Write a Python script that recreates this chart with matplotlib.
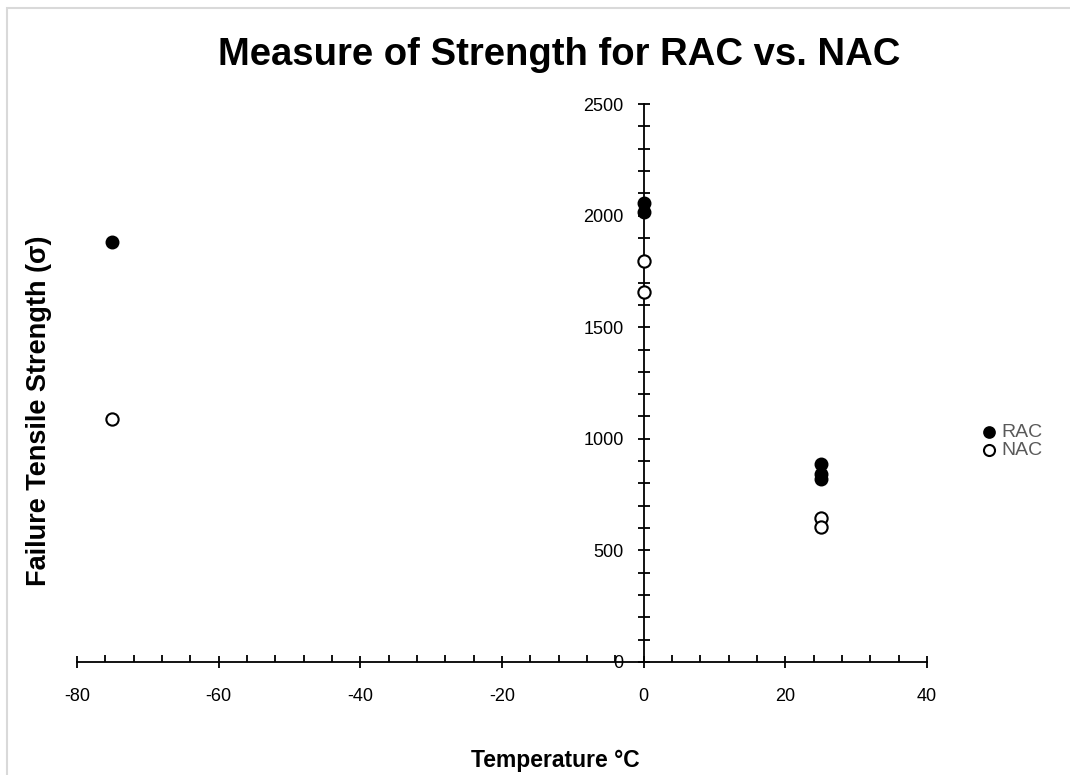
import matplotlib
matplotlib.use("Agg")
import matplotlib.pyplot as plt
from matplotlib.patches import Rectangle
from matplotlib.ticker import MultipleLocator

plt.rcParams['font.family'] = ['Liberation Sans', 'DejaVu Sans']
plt.rcParams['axes.unicode_minus'] = False

# Failure tensile strength at each test temperature
rac_temp = [-75, 0, 0, 25, 25, 25]
rac_strength = [1882, 2056, 2016, 889, 842, 820]
nac_temp = [-75, 0, 0, 25, 25]
nac_strength = [1090, 1795, 1658, 643, 605]

fig = plt.figure(figsize=(10.7, 7.75), dpi=100)
ax = fig.add_axes([77 / 1070, 1 - 662 / 775, 850 / 1070, 558 / 775])

# light grey chart frame
fig.patches.append(Rectangle((7 / 1070, -0.1), 1.2, 1 - 8 / 775 + 0.1,
                             transform=fig.transFigure, fill=False,
                             edgecolor='#d9d9d9', linewidth=1.5))

ax.scatter(rac_temp, rac_strength, s=78, color='black', edgecolor='black',
           linewidth=1.2, zorder=3, label='RAC')
ax.scatter(nac_temp, nac_strength, s=78, color='white', edgecolor='black',
           linewidth=1.5, zorder=3, label='NAC')

ax.set_xlim(-80, 40)
ax.set_ylim(0, 2500)
ax.spines['left'].set_position(('data', 0))
ax.spines['bottom'].set_position(('data', 0))
ax.spines['top'].set_visible(False)
ax.spines['right'].set_visible(False)
for sp in ('left', 'bottom'):
    ax.spines[sp].set_linewidth(1.3)

ax.xaxis.set_major_locator(MultipleLocator(20))
ax.xaxis.set_minor_locator(MultipleLocator(4))
ax.yaxis.set_major_locator(MultipleLocator(500))
ax.yaxis.set_minor_locator(MultipleLocator(100))
ax.tick_params(axis='x', which='major', direction='inout', length=9, width=1.3,
               labelsize=13, pad=14)
ax.tick_params(axis='x', which='minor', direction='in', length=5, width=1.3)
ax.tick_params(axis='y', which='both', direction='inout', length=9, width=1.3)
ax.tick_params(axis='y', which='major', labelsize=13, pad=10)

fig.text(559 / 1070, 1 - 55 / 775, 'Measure of Strength for RAC vs. NAC',
         ha='center', va='center', fontsize=27.5, fontweight='bold')
fig.text(39 / 1070, 1 - 411 / 775, 'Failure Tensile Strength (σ)', rotation=90,
         ha='center', va='center', fontsize=19.5, fontweight='bold')
fig.text(555 / 1070, 1 - 760 / 775, 'Temperature °C', ha='center', va='center',
         fontsize=16.5, fontweight='bold')

leg = fig.legend(loc='center left', bbox_to_anchor=(968 / 1070, 1 - 441 / 775),
                 frameon=False, handletextpad=0.0, handlelength=1.2,
                 labelspacing=0.0, fontsize=14, markerscale=0.9,
                 borderpad=0)
for t in leg.get_texts():
    t.set_color('#595959')

fig.savefig('out.png', dpi=100)
